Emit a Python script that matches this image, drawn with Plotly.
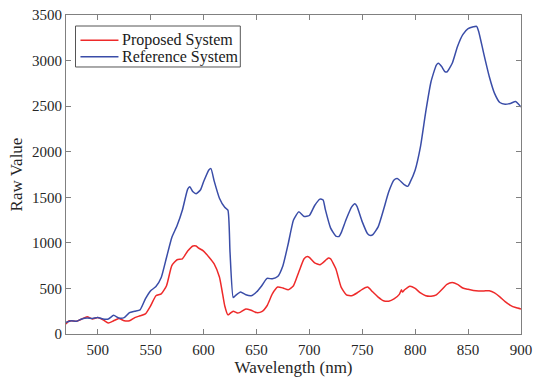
import plotly.graph_objects as go

# Proposed System (red)
prop_wl = [470, 473, 480, 485, 490, 495, 500, 505, 510, 515, 520, 525, 530, 535, 540, 545,
           550, 555, 560, 565, 570, 575, 580, 585, 590, 593, 595, 600, 605, 610, 615, 618,
           620, 623, 625, 628, 632, 635, 640, 645, 650, 655, 660, 665, 670, 675, 680, 685,
           690, 695, 698, 700, 705, 710, 715, 718, 720, 725, 730, 735, 740, 745, 750, 755,
           760, 765, 770, 775, 780, 785, 787, 788, 790, 795, 800, 805, 810, 815, 820, 825,
           830, 835, 840, 845, 850, 855, 860, 865, 870, 875, 880, 885, 890, 895, 900]
prop_val = [110, 145, 140, 165, 190, 165, 180, 155, 120, 145, 170, 145, 145, 180, 200, 220,
            310, 420, 440, 530, 750, 815, 825, 910, 965, 965, 945, 910, 845, 770, 625, 440,
            310, 210, 225, 250, 230, 240, 275, 260, 235, 245, 310, 440, 515, 505, 485, 530,
            680, 825, 850, 840, 780, 760, 805, 835, 825, 715, 515, 430, 420, 450, 490, 515,
            460, 405, 365, 360, 385, 435, 485, 460, 485, 525, 500, 450, 420, 415, 430, 485,
            545, 565, 545, 505, 490, 478, 472, 472, 475, 452, 408, 355, 315, 290, 275]

# Reference System (blue)
ref_wl = [470, 475, 480, 485, 490, 495, 500, 505, 510, 515, 520, 525, 530, 535, 540, 545,
          550, 555, 560, 565, 570, 575, 580, 585, 587, 590, 593, 597, 600, 605, 607, 610,
          615, 620, 623, 625, 628, 630, 635, 640, 645, 650, 655, 660, 665, 670, 675, 680,
          685, 690, 695, 700, 705, 710, 713, 715, 720, 725, 728, 730, 735, 740, 743, 745,
          750, 755, 758, 760, 765, 770, 775, 780, 783, 785, 790, 793, 795, 800, 805, 810,
          815, 820, 822, 825, 828, 830, 835, 840, 845, 850, 855, 858, 860, 865, 870, 875,
          880, 885, 890, 895, 900]
ref_val = [128, 145, 140, 165, 175, 170, 180, 165, 165, 205, 175, 180, 235, 250, 265, 385,
           475, 520, 620, 840, 1060, 1190, 1360, 1590, 1615, 1560, 1540, 1580, 1670, 1800, 1815, 1680,
           1490, 1390, 1360, 900, 400, 420, 460, 430, 420, 460, 530, 610, 605, 630, 750, 990,
           1250, 1340, 1290, 1300, 1410, 1480, 1470, 1370, 1165, 1075, 1070, 1110, 1265, 1395, 1430, 1400,
           1230, 1100, 1080, 1090, 1175, 1360, 1560, 1690, 1705, 1690, 1635, 1620, 1660, 1800, 2055, 2440,
           2770, 2950, 2970, 2935, 2880, 2875, 2970, 3155, 3285, 3350, 3370, 3375, 3320, 3065, 2825, 2640,
           2540, 2520, 2530, 2550, 2490]

series_names = ["Proposed System", "Reference System"]
series_colors = ["#EE2A2A", "#3A4DA8"]

x_ticks = [500, 550, 600, 650, 700, 750, 800, 850, 900]
y_ticks = [0, 500, 1000, 1500, 2000, 2500, 3000, 3500]

FONT = "Liberation Serif"
AXC = "#808080"
TXT = "#262626"

fig = go.Figure()
for wl, val, name, col in [(prop_wl, prop_val, series_names[0], series_colors[0]),
                           (ref_wl, ref_val, series_names[1], series_colors[1])]:
    fig.add_trace(go.Scatter(x=wl, y=val, mode="lines", name=name, showlegend=False,
                             line=dict(color=col, width=1.5, shape="spline", smoothing=0.5)))

# Compact MATLAB-style legend box (paper coordinates)
leg_x0, leg_x1, leg_y0, leg_y1 = 0.0209, 0.3831, 0.8370, 0.9655
row_y = [0.9207, 0.8693]
shapes = [dict(type="rect", xref="paper", yref="paper", x0=leg_x0, x1=leg_x1, y0=leg_y0, y1=leg_y1,
               line=dict(color="#555555", width=1), fillcolor="white", layer="above")]
annotations = []
for ry, name, col in zip(row_y, series_names, series_colors):
    shapes.append(dict(type="line", xref="paper", yref="paper", x0=0.0318, x1=0.1153, y0=ry, y1=ry,
                       line=dict(color=col, width=1.5), layer="above"))
    annotations.append(dict(xref="paper", yref="paper", x=0.1197, y=ry, xanchor="left", yanchor="middle",
                            text=name, showarrow=False,
                            font=dict(family=FONT, size=16, color="#1a1a1a")))

fig.update_layout(
    width=533, height=377,
    margin=dict(l=65.5, r=12, t=15, b=43, autoexpand=False),
    paper_bgcolor="white", plot_bgcolor="white",
    font=dict(family=FONT, size=15, color=TXT),
    showlegend=False,
    shapes=shapes,
    annotations=annotations,
)
fig.update_xaxes(range=[470, 900], tickvals=x_ticks, showgrid=False, zeroline=False,
                 automargin=False,
                 showline=True, linecolor=AXC, linewidth=1, mirror="allticks",
                 ticks="inside", ticklen=5, tickcolor=AXC, ticklabelstandoff=2,
                 tickfont=dict(family=FONT, size=15, color=TXT),
                 title=dict(text="Wavelength (nm)", font=dict(family=FONT, size=17, color=TXT),
                            standoff=2))
fig.update_yaxes(range=[0, 3500], tickvals=y_ticks, showgrid=False, zeroline=False,
                 automargin=False,
                 showline=True, linecolor=AXC, linewidth=1, mirror="allticks",
                 ticks="inside", ticklen=5, tickcolor=AXC,
                 tickfont=dict(family=FONT, size=15, color=TXT),
                 title=dict(text="Raw Value", font=dict(family=FONT, size=17, color=TXT),
                            standoff=5))

fig.write_html("out.html", config={"displayModeBar": False},
               post_script="document.body.style.margin='0';")
